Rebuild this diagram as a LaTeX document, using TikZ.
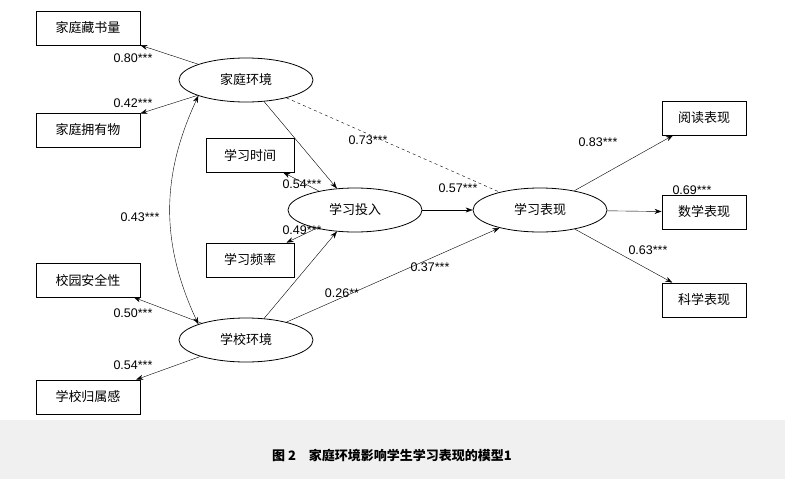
\documentclass[tikz,border=0pt]{standalone}
\usepackage{fontspec}
\setmainfont{Liberation Sans}
\newfontfamily\cjk{Noto Sans CJK SC}
\usetikzlibrary{shapes.geometric}
\usetikzlibrary{arrows.meta}

\tikzset{
  obs/.style={draw, thick, rectangle, minimum width=104pt, minimum height=34pt, font=\cjk\fontsize{13}{15}\selectfont},
  obss/.style={obs, minimum width=88pt},
  lat/.style={draw, thick, ellipse, minimum width=134pt, minimum height=44pt, font=\cjk\fontsize{13}{15}\selectfont},
  path/.style={-{Stealth[length=7pt,width=5pt]}, thin},
  coef/.style={font=\fontsize{12.5}{15}\selectfont}
}

\begin{document}
\begin{tikzpicture}[x=1pt,y=-1pt]
  \useasboundingbox (0,0) rectangle (785,479);
  \fill[gray!12] (0,420) rectangle (785,479);

  % Define nodes
  \node[lat] (home) at (246,80) {家庭环境};
  \node[lat] (school) at (246,340) {学校环境};
  \node[lat] (engage) at (355,210) {学习投入};
  \node[lat] (perf) at (540,210) {学习表现};

  \node[obs] (books) at (88,28) {家庭藏书量};
  \node[obs] (owns) at (88,130) {家庭拥有物};
  \node[obs] (safe) at (88,280) {校园安全性};
  \node[obs] (belong) at (88,397) {学校归属感};
  \node[obss] (time) at (250,155) {学习时间};
  \node[obss] (freq) at (250,260) {学习频率};
  \node[obs, minimum width=84pt] (read) at (704,118) {阅读表现};
  \node[obs, minimum width=84pt] (math) at (704,212) {数学表现};
  \node[obs, minimum width=84pt] (sci) at (704,300) {科学表现};

  % Connect nodes
  \draw[path] (home) -- (books);
  \draw[path] (home) -- (owns);
  \draw[path] (school) -- (safe);
  \draw[path] (school) -- (belong);
  \draw[path] (engage) -- (time);
  \draw[path] (engage) -- (freq);
  \draw[path] (perf) -- (read);
  \draw[path] (perf) -- (math);
  \draw[path] (perf) -- (sci);
  \draw[path] (home) -- (engage);
  \draw[path] (school) -- (engage);
  \draw[path] (engage) -- (perf);
  \draw[path] (school) -- (perf);
  \draw[thin, dashed] (home) -- (perf);
  \draw[{Stealth[length=7pt,width=5pt]}-{Stealth[length=7pt,width=5pt]}, thin]
    (home.south west) to[bend right=25] (school.north west);

  % Coefficients
  \node[coef] at (133,58) {0.80***};
  \node[coef] at (133,103) {0.42***};
  \node[coef] at (368,140) {0.73***};
  \node[coef] at (302,184) {0.54***};
  \node[coef] at (302,230) {0.49***};
  \node[coef] at (458,188) {0.57***};
  \node[coef] at (598,142) {0.83***};
  \node[coef] at (692,190) {0.69***};
  \node[coef] at (648,250) {0.63***};
  \node[coef] at (140,217) {0.43***};
  \node[coef] at (430,267) {0.37***};
  \node[coef] at (342,293) {0.26**};
  \node[coef] at (133,313) {0.50***};
  \node[coef] at (133,365) {0.54***};

  % Caption
  \node[font=\cjk\bfseries\fontsize{13}{15}\selectfont] (cap) at (392,455) {图 2\quad 家庭环境影响学生学习表现的模型1};
\end{tikzpicture}
\end{document}
